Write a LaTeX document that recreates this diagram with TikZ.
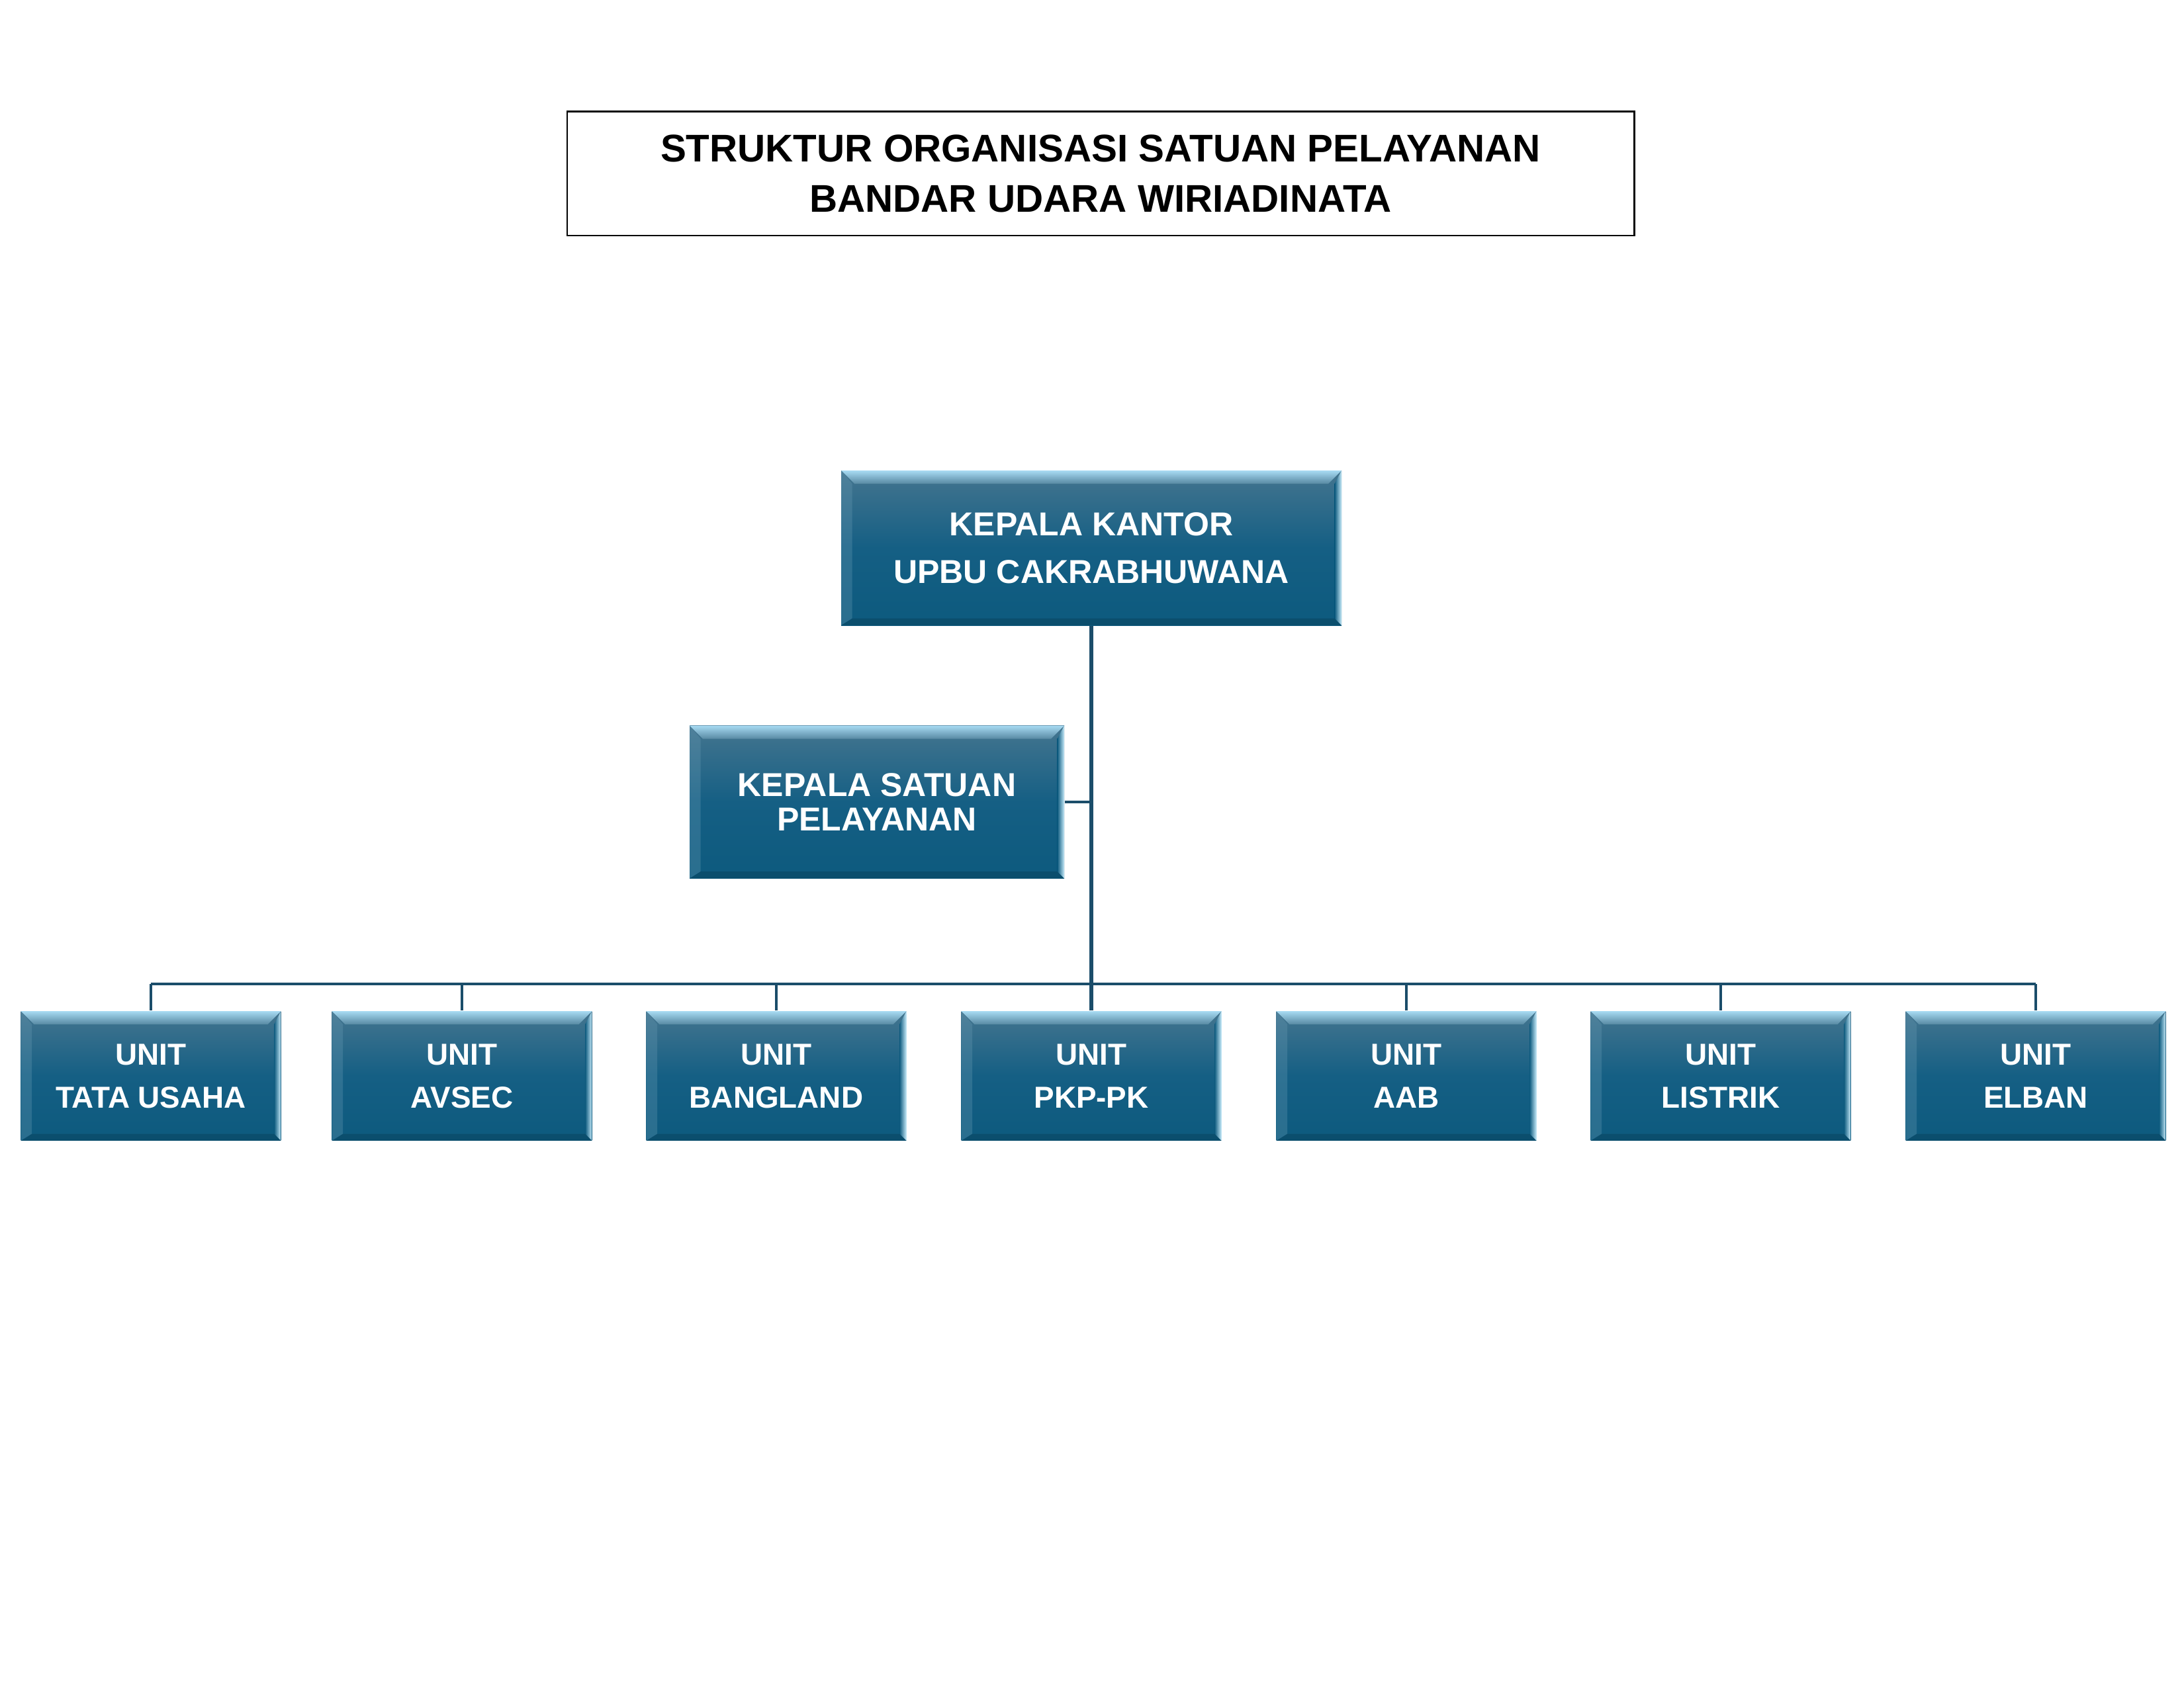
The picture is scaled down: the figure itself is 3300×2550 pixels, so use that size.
\documentclass[tikz,border=0pt]{standalone}
\usepackage{fontspec}
\setmainfont{Liberation Sans}
\usetikzlibrary{calc}
\definecolor{boxtop}{HTML}{44758F}
\definecolor{boxmid}{HTML}{155F84}
\definecolor{boxbot}{HTML}{0D5A7E}
\definecolor{bevlight}{HTML}{A8DBF3}
\definecolor{bevright}{HTML}{C6EAF9}
\definecolor{bevdark}{HTML}{0A4662}
\definecolor{conn}{HTML}{1B4D6A}
\tikzset{
  orgbox/.style={inner sep=0pt, align=center, text=white,
    top color=boxtop, bottom color=boxbot, middle color=boxmid,
    path picture={
      \coordinate (nw) at (path picture bounding box.north west);
      \coordinate (ne) at (path picture bounding box.north east);
      \coordinate (sw) at (path picture bounding box.south west);
      \coordinate (se) at (path picture bounding box.south east);
      \shade[top color=bevlight, bottom color=boxtop!80!bevlight]
        (nw) -- (ne) -- ($(ne)+(-4.8pt,-4.8pt)$) -- ($(nw)+(4.8pt,-4.8pt)$) -- cycle;
      \shade[left color=boxbot, right color=bevright]
        (ne) -- (se) -- ($(se)+(-2.5pt,2.5pt)$) -- ($(ne)+(-2.5pt,-4.8pt)$) -- cycle;
      \fill[boxtop!60!bevlight, opacity=0.3]
        (nw) -- (sw) -- ($(sw)+(4pt,2.5pt)$) -- ($(nw)+(4pt,-4.8pt)$) -- cycle;
      \fill[bevdark, opacity=0.6]
        (sw) -- (se) -- ($(se)+(-2.5pt,2.5pt)$) -- ($(sw)+(4pt,2.5pt)$) -- cycle;
    }},
  unitbox/.style={orgbox, minimum width=94.3pt, minimum height=47pt,
    font={\fontsize{11}{15.6}\selectfont\bfseries}},
  connline/.style={draw=conn, line width=1pt},
  trunkline/.style={draw=conn, line width=1.4pt},
}
\begin{document}
\begin{tikzpicture}[x=0.24pt,y=-0.24pt]
\useasboundingbox (0,0) rectangle (3300,2550);
\fill[white] (0,0) rectangle (3300,2550);

% title
\node[draw=black, line width=0.7pt, minimum width=386.9pt, minimum height=45.1pt,
  inner sep=0pt, align=center, font={\fontsize{14}{18.2}\selectfont\bfseries}]
  (title) at (1663,262) {STRUKTUR ORGANISASI SATUAN PELAYANAN\\BANDAR UDARA WIRIADINATA};

% head
\node[orgbox, minimum width=181.44pt, minimum height=56.16pt,
  font={\fontsize{12}{17.3}\selectfont\bfseries}]
  (kk) at (1649,828) {KEPALA KANTOR\\UPBU CAKRABHUWANA};

\node[orgbox, minimum width=135.84pt, minimum height=55.44pt,
  font={\fontsize{12}{12.5}\selectfont\bfseries}]
  (ks) at (1325,1212) {KEPALA SATUAN\\PELAYANAN};

% units
\node[unitbox] (u1) at (228,1626)  {UNIT\\TATA USAHA};
\node[unitbox] (u2) at (698,1626)  {UNIT\\AVSEC};
\node[unitbox] (u3) at (1173,1626) {UNIT\\BANGLAND};
\node[unitbox] (u4) at (1649,1626) {UNIT\\PKP-PK};
\node[unitbox] (u5) at (2125,1626) {UNIT\\AAB};
\node[unitbox] (u6) at (2600,1626) {UNIT\\LISTRIK};
\node[unitbox] (u7) at (3076,1626) {UNIT\\ELBAN};

\coordinate (bus) at (1649,1487);

% connectors
\draw[trunkline] (kk.south -| bus) -- (bus);
\draw[connline] (ks.east) -- (ks.east -| bus);
\draw[connline] (u1.north |- bus) -- (u7.north |- bus);
\foreach \u in {u1,u2,u3,u5,u6,u7} {
  \draw[connline] (\u.north) -- (\u.north |- bus);
}
\draw[trunkline] (u4.north) -- (bus);
\end{tikzpicture}
\end{document}
